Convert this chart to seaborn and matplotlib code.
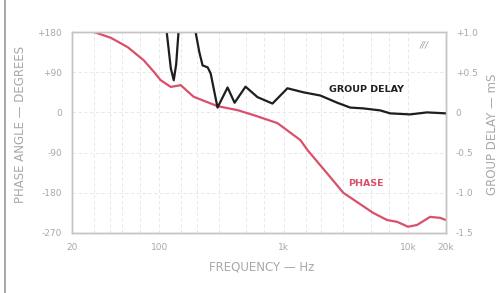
import matplotlib
matplotlib.use("Agg")
import matplotlib.pyplot as plt
import seaborn as sns
import numpy as np
import pandas as pd

# Phase response (degrees)
phase_freq = [20, 30, 41, 56, 75, 90, 103, 124, 149, 189, 294, 426, 572, 889, 1358,
              1546, 2361, 3000, 5212, 6745, 8110, 9930, 11720, 14900, 17900, 20000]
phase_deg = [184, 180, 167, 146, 117, 92, 72, 57, 61, 35, 14, 5, -6, -24, -62,
             -84, -145, -180, -225, -241, -245, -256, -252, -234, -236, -241]

# Group delay (ms)
gd_freq = [105, 115, 124, 131, 137, 143, 150, 190, 196, 210, 223, 245, 259, 294, 354,
           403, 493, 615, 811, 1069, 1436, 1963, 2686, 3412, 4335, 5929, 7129,
           10300, 14090, 20000]
gd_ms = [2.0, 1.0, 0.55, 0.40, 0.60, 1.0, 1.6, 1.6, 1.0, 0.75, 0.585, 0.56, 0.485, 0.06, 0.31,
         0.12, 0.32, 0.19, 0.11, 0.30, 0.25, 0.21, 0.12, 0.06, 0.05, 0.025, -0.012,
         -0.025, 0.0, -0.012]

x_ticks = [20, 100, 1000, 10000, 20000]
x_labels = ["20", "100", "1k", "10k", "20k"]
phase_ticks = [180, 90, 0, -90, -180, -270]
phase_labels = ["+180", "+90", "0", "-90", "-180", "-270"]
gd_ticks = [1.0, 0.5, 0.0, -0.5, -1.0, -1.5]
gd_labels = ["+1.0", "+0.5", "0", "-0.5", "-1.0", "-1.5"]

sns.set_theme(style="white")
plt.rcParams['font.family'] = ['DejaVu Sans']

fig = plt.figure(figsize=(5.03, 2.93), dpi=100)
ax = fig.add_axes([72/503, 1-233/293, (446-72)/503, (233-32)/293])
ax2 = ax.twinx()

grey = "#a8a8a8"
red = "#d9506a"

df_p = pd.DataFrame({"f": phase_freq, "p": phase_deg})
df_g = pd.DataFrame({"f": gd_freq, "g": gd_ms})

sns.lineplot(data=df_p, x="f", y="p", ax=ax, color=red, lw=1.6, estimator=None)
sns.lineplot(data=df_g, x="f", y="g", ax=ax2, color="#1e1e1e", lw=1.6, estimator=None)

for a in (ax, ax2):
    a.set_xscale("log")
    a.set_xlim(20, 20000)
ax.set_ylim(-270, 180)
ax2.set_ylim(-1.5, 1.0)

ax.set_xticks(x_ticks)
ax.set_xticklabels(x_labels)
ax.xaxis.set_minor_locator(matplotlib.ticker.NullLocator())
ax.set_yticks(phase_ticks)
ax.set_yticklabels(phase_labels)
ax2.set_yticks(gd_ticks)
ax2.set_yticklabels(gd_labels)

for a in (ax, ax2):
    a.tick_params(length=0, labelsize=6.5, labelcolor=grey, pad=7)
    for s in a.spines.values():
        s.set_color("#c4c4c4")
        s.set_linewidth(1.0)

# faint grid
gx = [30, 40, 50, 70, 100, 150, 200, 300, 500, 700, 1000, 1500, 2000, 3000, 5000, 7000, 10000]
for xv in gx:
    ax.axvline(xv, color="#e4e4e4", lw=0.6, ls=(0, (4, 3)), zorder=0)
for yv in [90, 0, -90, -180]:
    ax.axhline(yv, color="#e4e4e4", lw=0.6, ls=(0, (4, 3)), zorder=0)

ax.set_xlabel("FREQUENCY — Hz", color=grey, fontsize=8.5, va="center")
ax.set_ylabel("PHASE ANGLE — DEGREES", color=grey, fontsize=8.5, va="center")
ax2.set_ylabel("GROUP DELAY — mS", color=grey, fontsize=8.5, va="center")
ax.xaxis.set_label_coords(0.507, -0.169)
ax.yaxis.set_label_coords(-0.139, 0.542)
ax2.yaxis.set_label_coords(1.123, 0.49)

fig.text(366/503, 1-89/293, "GROUP DELAY", color="#1e1e1e", fontsize=6.8,
         ha="center", va="center", fontweight="bold")
fig.text(366/503, 1-183/293, "PHASE", color=red, fontsize=6.8,
         ha="center", va="center", fontweight="bold")
fig.text(424/503, 1-45/293, "///", color="#999999", fontsize=6.5,
         ha="center", va="center", style="italic")

fig.add_artist(plt.Line2D([5/503, 5/503], [0, 1], color="#9a9a9a", lw=1.2))

fig.savefig("out.png", dpi=100)
